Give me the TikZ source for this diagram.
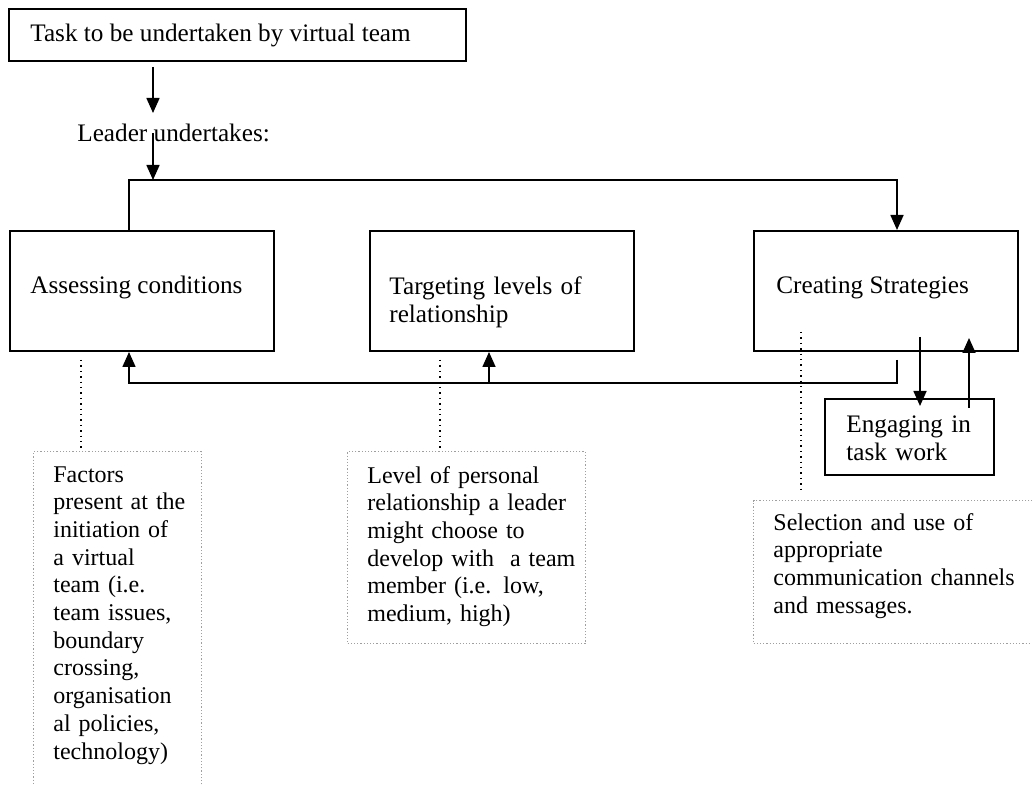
\documentclass[tikz,border=0pt]{standalone}
\usepackage{fontspec}
\setmainfont{Liberation Serif}
\usetikzlibrary{arrows.meta}
\begin{document}
\begin{tikzpicture}[x=0.5pt,y=-0.5pt,
  box/.style={draw, line width=1pt, rectangle, anchor=north west, inner sep=0pt},
  notebox/.style={draw=gray!75, densely dotted, line width=0.6pt, rectangle, anchor=north west, inner sep=0pt},
  txt/.style={anchor=base west, inner sep=0pt, font=\fontsize{12.6pt}{13.6pt}\selectfont},
  para/.style={txt, text width=150pt, align=left},
  note/.style={para, font=\fontsize{12pt}{13.85pt}\selectfont},
  link/.style={line width=0.8pt},
  arr/.style={link, -{Triangle[width=6.5pt,length=7.5pt]}},
  dotline/.style={dotted, line width=0.7pt}]
\useasboundingbox (0,0) rectangle (1032,785);
\clip (0,0) rectangle (1032,785);
\fill[white] (0,0) rectangle (1032,785);

% main boxes
\node[box, minimum width=228.5pt, minimum height=26pt] (task) at (8,8) {};
\node[box, minimum width=132pt, minimum height=60pt] (assess) at (9,230) {};
\node[box, minimum width=132pt, minimum height=60pt] (target) at (369,230) {};
\node[box, minimum width=132pt, minimum height=60pt] (create) at (753,230) {};
\node[box, minimum width=84.5pt, minimum height=38pt] (engage) at (824,398) {};

% dotted note boxes
\node[notebox, minimum width=84pt, minimum height=180pt] (factors) at (33,451) {};
\node[notebox, minimum width=119pt, minimum height=96pt] (level) at (347,451) {};
\node[notebox, minimum width=150pt, minimum height=71.5pt] (select) at (753,500) {};

% texts
\node[txt] (tasktext) at (30,42) {Task to be undertaken by virtual team};
\node[txt] (leader) at (77,142) {Leader undertakes:};
\node[txt] (assesstext) at (30,294) {Assessing conditions};
\node[para] (targettext) at (389,295) {Targeting levels of\\relationship};
\node[txt] (createtext) at (776,294) {Creating Strategies};
\node[para] (engagetext) at (846,433) {Engaging in\\task work};
\node[note] (factorstext) at (53,482) {Factors\\present at the\\initiation of\\a virtual\\team (i.e.\\team issues,\\boundary\\crossing,\\organisation\\al policies,\\technology)};
\node[note] (leveltext) at (367,483) {Level of personal\\relationship a leader\\might choose to\\develop with\ \ a team\\member (i.e. low,\\medium, high)};
\node[note] (selecttext) at (773,530) {Selection and use of\\appropriate\\communication channels\\and messages.};

% reference columns and junctions
\coordinate (xA) at (153,0);
\coordinate (xL) at (129,0);
\coordinate (xM) at (489,0);
\coordinate (xR) at (897,0);
\coordinate (xD) at (920,0);
\coordinate (xU) at (969,0);
\coordinate (xa) at (81,0);
\coordinate (xb) at (440,0);
\coordinate (xc) at (801,0);
\coordinate (split) at (153,180);
\coordinate (fbline) at (0,383);
\coordinate (a1end) at (153,113);
\coordinate (a2start) at (153,133);
\coordinate (fbtop) at (897,360);

% flow from the task to the leader and on to the three activities
\draw[arr] ([yshift=-2.5pt]task.south -| xA) -- (a1end);
\draw[arr] (a2start) -- (split);
\draw[arr] (assess.north -| xL) |- (split) -| (create.north -| xR);

% feedback from strategies to the other two activities
\draw[arr] (fbtop) -- (fbtop |- fbline) -| (assess.south -| xL);
\draw[arr] (xM |- fbline) -- (target.south -| xM);

% strategies <-> task work
\draw[arr] ([yshift=7.5pt]create.south -| xD) -- ([yshift=-4pt]engage.north -| xD);
\draw[arr] ([yshift=-5pt]engage.north -| xU) -- ([yshift=7pt]create.south -| xU);

% dotted leaders to the notes
\draw[dotline] ([yshift=-4pt]assess.south -| xa) -- (factors.north -| xa);
\draw[dotline] ([yshift=-4pt]target.south -| xb) -- (level.north -| xb);
\draw[dotline] ([yshift=10pt]create.south -| xc) -- ([yshift=4pt]select.north -| xc);
\end{tikzpicture}
\end{document}
